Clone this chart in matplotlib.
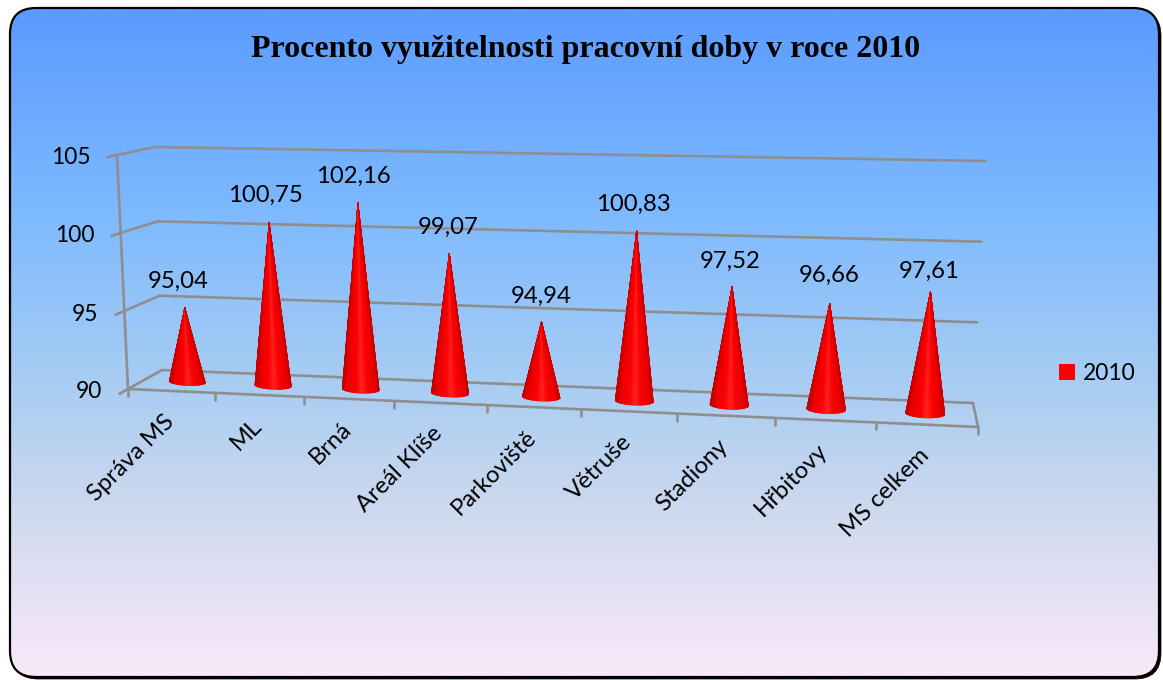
import numpy as np
import matplotlib
matplotlib.use("Agg")
import matplotlib.pyplot as plt
from matplotlib.collections import PolyCollection
from matplotlib.colors import LinearSegmentedColormap
from matplotlib.patches import FancyBboxPatch, Patch

# ---- data ----
TITLE = "Procento využitelnosti pracovní doby v roce 2010"
categories = ["Správa MS", "ML", "Brná", "Areál Klíše", "Parkoviště",
              "Větruše", "Stadiony", "Hřbitovy", "MS celkem"]
values_2010 = [95.04, 100.75, 102.16, 99.07, 94.94, 100.83, 97.52, 96.66, 97.61]
value_labels = ["95,04", "100,75", "102,16", "99,07", "94,94", "100,83", "97,52", "96,66", "97,61"]
y_ticks = [90, 95, 100, 105]
series_name = "2010"

# ---- layout ----
W, H = 1163, 680
V_MIN, V_MAX = 90.0, 105.0
# screen position of the eight corners of the 3D plot box
C = {  # (front/back, left/right, bottom/top)
    ("f", "l", 0): (128, 389), ("f", "l", 1): (117, 155),
    ("b", "l", 0): (162, 370), ("b", "l", 1): (155, 147),
    ("f", "r", 0): (978, 427), ("f", "r", 1): (990, 174),
    ("b", "r", 0): (973, 403), ("b", "r", 1): (985, 161),
}
PERSP = 1.096
VAL_DX = [-6, -4, -4, -1, 0, -3, -2, -1, -1]
VAL_DY = [-23, -24, -23, -23, -22, -23, -22, -25, -17]
TIP_TRIM = 3.5
LAB_FS = 16.4
VAL_FS = 17.2
CAT_FS = 17.2

plt.rcParams["font.family"] = ["Lato", "DejaVu Sans"]


def proj(cat, val, depth):
    """cat in category units (0..n), val in chart units, depth 0 front .. 1 back."""
    s = cat / len(categories)
    f = s / (s + PERSP * (1 - s))
    t = (val - V_MIN) / (V_MAX - V_MIN)
    out = np.zeros(2)
    for dk, dw in (("f", 1 - depth), ("b", depth)):
        for lk, lw in (("l", 1 - f), ("r", f)):
            for vk, vw in ((0, 1 - t), (1, t)):
                out = out + dw * lw * vw * np.array(C[(dk, lk, vk)], float)
    return out


fig = plt.figure(figsize=(W / 100, H / 100), dpi=100, facecolor="white")
ax = fig.add_axes([0, 0, 1, 1])

# panel
bg_cmap = LinearSegmentedColormap.from_list(
    "bg", [(0, "#5B9BFF"), (0.30, "#7DB9FF"), (0.55, "#A6CCF3"),
           (0.75, "#CDD9EE"), (1, "#FAE8FA")])
shadow = FancyBboxPatch((12, 10), 1149, 669, boxstyle="round,pad=0,rounding_size=26",
                        fc="black", ec="black", lw=0.5, zorder=0.5)
ax.add_patch(shadow)
panel = FancyBboxPatch((10, 8), 1149, 669, boxstyle="round,pad=0,rounding_size=26",
                       fc="none", ec="black", lw=1.6, zorder=2)
ax.add_patch(panel)
im = ax.imshow(np.linspace(0, 1, 400)[:, None], cmap=bg_cmap, aspect="auto",
               extent=(10, 1159, 677, 8), zorder=1)
im.set_clip_path(panel)

ax.set_xlim(0, W)
ax.set_ylim(H, 0)
ax.axis("off")

GRID = "#8E8E8E"
GLW = 1.9
n = len(categories)


def seg(p, q, **kw):
    ax.plot([p[0], q[0]], [p[1], q[1]], color=GRID, lw=GLW, solid_capstyle="round",
            zorder=3, **kw)


# gridlines, left wall and value ticks
for v in y_ticks:
    seg(proj(0, v, -0.25), proj(0, v, 1))
    seg(proj(0, v, 1), proj(n, v, 1))
    p = proj(0, v, -0.25)
    ax.text(p[0] - 17, p[1] + (0 if v != 90 else -2), str(v), fontsize=LAB_FS, color="black",
            ha="right", va="center", zorder=6)
seg(proj(0, V_MIN, 0), proj(0, V_MAX, 0))
# floor
seg(proj(0, V_MIN, 0), proj(n, V_MIN, 0))
seg(proj(n, V_MIN, 0), proj(n, V_MIN, 1))
# category ticks
for i in range(n + 1):
    p = proj(i, V_MIN, 0)
    seg(p, p + np.array([0, 7]))

# cones
cone_cmap = LinearSegmentedColormap.from_list(
    "cone", [(0, "#C00000"), (0.15, "#EC0000"), (0.38, "#FF0000"), (0.52, "#FF2020"),
             (0.68, "#FF0000"), (0.9, "#E60000"), (1, "#CC0000")])
for i, v in enumerate(values_2010):
    c = proj(i + 0.5, V_MIN, 0.5)
    top = proj(i + 0.5, v, 0.5)
    tip = top + (c - top) / np.linalg.norm(c - top) * TIP_TRIM
    a = 18 + 0.2 * i
    b = 3.6 + 0.1 * i
    slope = (proj(n, V_MIN, 0.5)[1] - proj(0, V_MIN, 0.5)[1]) / (proj(n, V_MIN, 0.5)[0] - proj(0, V_MIN, 0.5)[0])
    th = np.linspace(np.pi, 0, 61)
    px = c[0] + a * np.cos(th)
    py = c[1] + 0.6 + a * slope * np.cos(th) + b * np.sin(th)
    polys = [[(px[k], py[k]), (px[k + 1], py[k + 1]), (tip[0], tip[1])] for k in range(60)]
    cols = cone_cmap((px[:-1] - px.min()) / (px.max() - px.min()))
    ax.add_collection(PolyCollection(polys, facecolors=cols, edgecolors=cols, linewidths=0.5, zorder=4))
    ax.text(top[0] + VAL_DX[i], top[1] + VAL_DY[i], value_labels[i], fontsize=VAL_FS,
            color="black", ha="center", va="center", zorder=6)
    # category label
    a0 = proj(i + 0.5, V_MIN, 0)
    ax.text(a0[0] - 1, a0[1] + 27, categories[i], fontsize=CAT_FS, color="black", rotation=45,
            rotation_mode="anchor", ha="right", va="center", zorder=6)

ax.text(586, 50, TITLE, fontsize=23, fontweight="bold", family="Liberation Serif",
        color="black", ha="center", va="center", zorder=6)

leg = ax.legend(handles=[Patch(facecolor="#FF0000", edgecolor="none", label=series_name)],
                loc="center left", bbox_to_anchor=(1052 / W, 1 - 373.5 / H), frameon=False,
                fontsize=LAB_FS, handlelength=0.7, handleheight=0.7, handletextpad=0.35,
                borderpad=0.3, borderaxespad=0)
leg.set_zorder(6)

fig.savefig("out.png", dpi=100)
